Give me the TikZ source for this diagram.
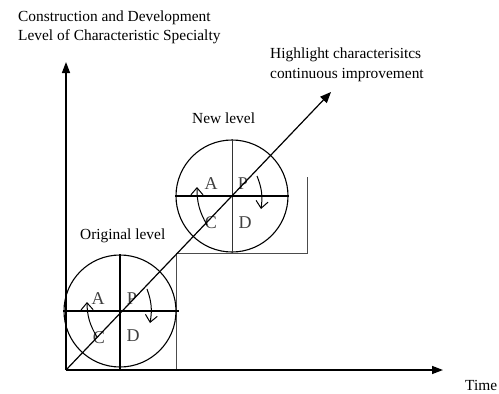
\documentclass[tikz,border=0pt]{standalone}
\usepackage{fontspec}
\setmainfont{Liberation Serif}
\usetikzlibrary{arrows.meta}
\begin{document}
\begin{tikzpicture}[x=1pt,y=-1pt,
  font=\fontsize{15.4}{19}\selectfont,
  axis/.style={line width=1.4pt,-{Triangle[length=11pt,width=8pt]}},
  ring/.style={circle,draw,line width=1.1pt,minimum size=112pt,inner sep=0pt},
  divider/.style={line width=1.2pt},
  thindiv/.style={line width=0.9pt,draw=black!80},
  thickdiv/.style={line width=1.9pt},
  stepline/.style={line width=1pt,draw=black!70},
  cyc/.style={line width=1pt,-{Straight Barb[length=7pt,width=12pt]}},
  lbl/.style={inner sep=0pt,anchor=base west},
  letter/.style={inner sep=0pt,anchor=base,text=black!75,font=\fontsize{18}{18}\selectfont}]
\useasboundingbox (0,0) rectangle (499,394);
\fill[white] (0,0) rectangle (499,394);
\coordinate (O) at (66,370);
\coordinate (ytip) at (66,62);
\coordinate (xtip) at (443,370);
\coordinate (dtip) at (331,92);
% step
\coordinate (s1) at (176,370);
\coordinate (s2) at (176,253);
\coordinate (s3) at (307,253);
\coordinate (s4) at (307,177);
\draw[stepline] (s1) -- (s2) -- (s3) -- (s4);
% circles
\node[ring] (c1) at (120,311) {};
\node[ring] (c2) at (232,196) {};
\draw[divider] (c1.north) -- (c1.north |- O);
\draw[divider] (c1.west) -- ([xshift=2pt]c1.east);
\draw[thindiv] (c2.north) -- (c2.south);
\draw[thickdiv] (c2.west) -- (c2.east);
% letters
\node[letter] (a1) at (98,304) {A};
\node[letter] (p1) at (132,304) {P};
\node[letter] (c1l) at (99,343) {C};
\node[letter] (d1) at (133,341) {D};
\node[letter] (a2) at (211,189) {A};
\node[letter] (p2) at (243,189) {P};
\node[letter] (c2l) at (211,228) {C};
\node[letter] (d2) at (245,228) {D};
% cycle arrows
\draw[cyc] (97,337) to[bend left=15] (87,302);
\draw[cyc] (147,289) to[bend left=15] (150,323);
\draw[cyc] (207,225) to[bend left=15] (197,187);
\draw[cyc] (257,176) to[bend left=15] (261,209);
% axes
\draw[axis] (O) -- (ytip);
\draw[axis] (O) -- (xtip);
\draw[line width=1.2pt,-{Triangle[length=11pt,width=9pt]}] (O) -- (dtip);
% labels
\node[lbl] (title1) at (18,21) {Construction and Development};
\node[lbl] (title2) at (18,40) {Level of Characteristic Specialty};
\node[lbl] (hl1) at (270,58) {Highlight characterisitcs};
\node[lbl] (hl2) at (270,78) {continuous improvement};
\node[lbl] (new) at (192,123) {New level};
\node[lbl] (orig) at (80,239) {Original level};
\node[lbl] (time) at (465,390) {Time};
\end{tikzpicture}
\end{document}
